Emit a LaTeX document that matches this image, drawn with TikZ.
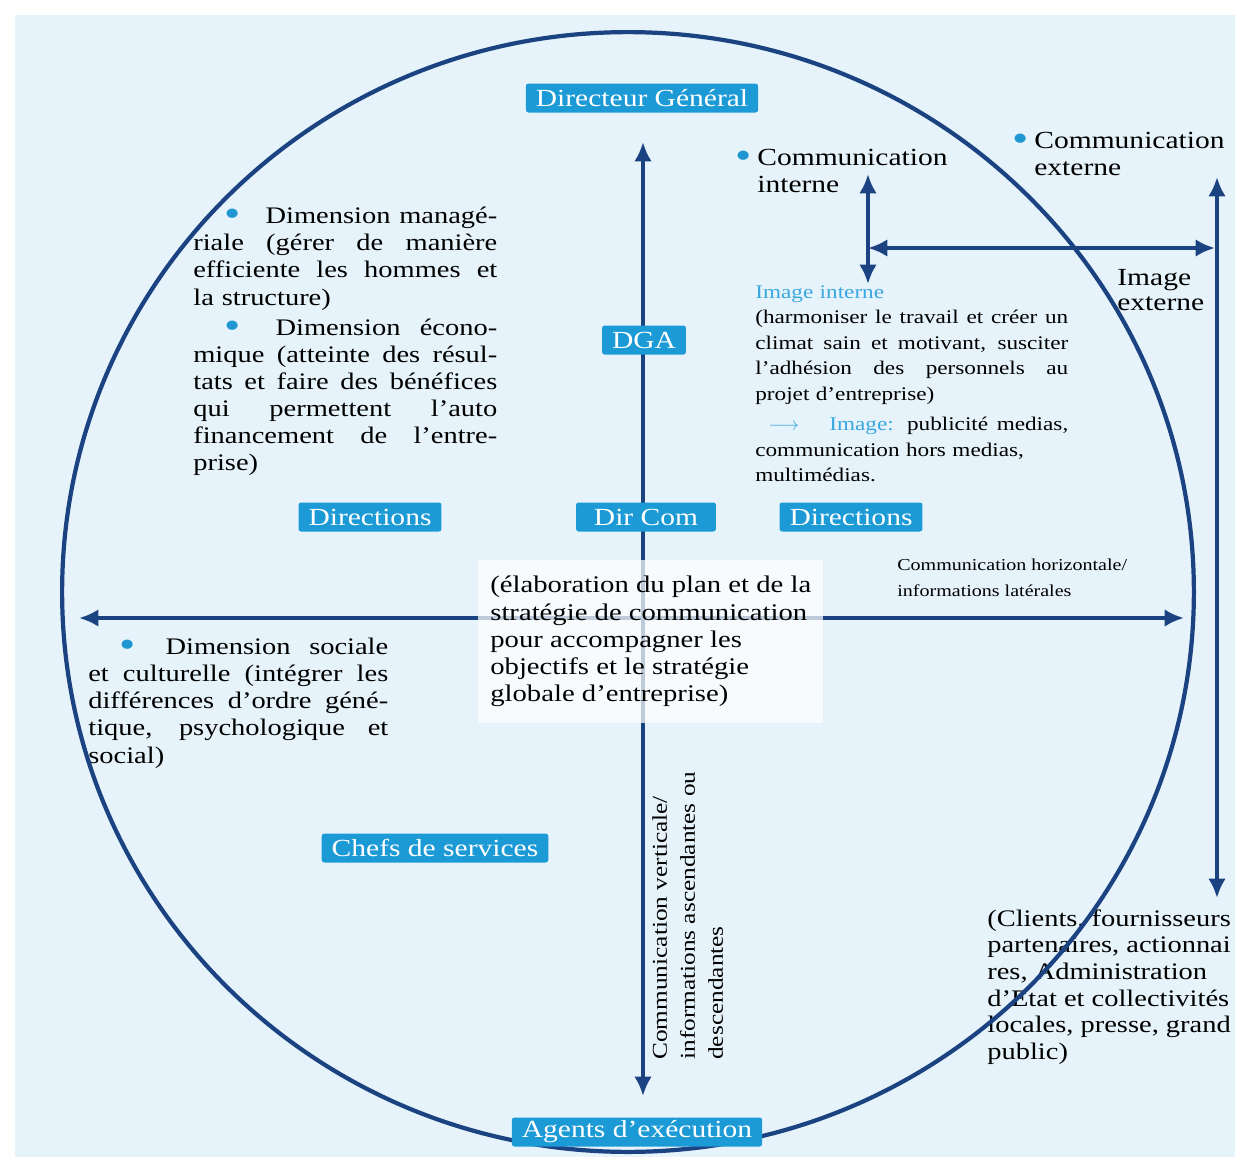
\documentclass[tikz,border=0pt]{standalone}
\usepackage{fontspec}
\setmainfont{Liberation Serif}[FakeStretch=1.2]
\usetikzlibrary{arrows.meta}
\definecolor{cNavy}{HTML}{1B4281}
\definecolor{cLabel}{HTML}{1C9AD6}
\definecolor{cBullet}{HTML}{1E96D2}
\definecolor{cLight}{HTML}{3AA8E0}
\definecolor{cBack}{HTML}{E6F3FA}
\newcommand{\bul}{\raisebox{-1.5pt}{\color{cBullet}\fontsize{22}{10}\selectfont\textbullet}}
\newcommand{\jl}[1]{\noindent\hbox to\hsize{\spaceskip=0pt\xspaceskip=0pt #1}\par}
\newcommand{\nl}[1]{\noindent#1\par}

\begin{document}
\begin{tikzpicture}[x=0.02cm, y=-0.02cm,
  lab/.style={fill=cLabel, text=white, font=\fontsize{14}{14}\selectfont,
    inner xsep=0.2cm, inner ysep=0pt, minimum height=0.58cm, rounded corners=1.5pt},
  rowlab/.style={lab, minimum width=2.8cm},
  txt/.style={inner sep=0pt, align=left, font=\fontsize{13.5}{15.4}\selectfont},
  axis/.style={cNavy, line width=2.3pt, >={Latex[length=11pt, width=10pt]}, <->},
  ring/.style={cNavy, line width=2.4pt},
]
  \useasboundingbox (0,0) rectangle (1235,1157);
  \clip (0,0) rectangle (1235,1157);
  % background
  \fill[white] (0,0) rectangle (1235,1157);
  \fill[cBack] (15,15) rectangle (1235,1157);
  % ---- axes ----
  \coordinate (vT) at (643,142);  \coordinate (vB) at (643,1096);
  \coordinate (hL) at (79,618);   \coordinate (hR) at (1184,618);
  \coordinate (iT) at (868,174);  \coordinate (iB) at (868,284);
  \coordinate (iL) at (868,248);  \coordinate (iR) at (1215,248);
  \coordinate (eT) at (1217,177); \coordinate (eB) at (1217,898);
  \draw[axis] (vT) -- (vB);
  \draw[axis] (hL) -- (hR);
  \draw[axis] (iT) -- (iB);
  \draw[axis] (iL) -- (iR);
  \draw[axis] (eT) -- (eB);
  % ---- left texts ----
  \node[txt, text width=6.08cm, anchor=north west] (mgmt) at (193,207) {%
    \jl{\hspace*{0.62cm}\bul\hspace{0.5cm}Dimension managé-}
    \jl{riale (gérer de manière}
    \jl{efficiente les hommes et}
    \nl{la structure)}\vskip 2pt
    \jl{\hspace*{0.62cm}\bul\hspace{0.7cm}Dimension écono-}
    \jl{mique (atteinte des résul-}
    \jl{tats et faire des bénéfices}
    \jl{qui permettent l'auto}
    \jl{financement de l'entre-}
    \nl{prise)}};
  \node[txt, text width=6.0cm, anchor=north west] (social) at (88,638) {%
    \jl{\hspace*{0.62cm}\bul\hspace{0.6cm}Dimension sociale}
    \jl{et culturelle (intégrer les}
    \jl{différences d'ordre géné-}
    \jl{tique, psychologique et}
    \nl{social)}};
  % ---- centre ----
  \node[txt, font=\fontsize{13.6}{15.5}\selectfont, anchor=north west,
    fill=white, fill opacity=0.72, text opacity=1, inner xsep=0.24cm, inner ysep=0.32cm]
    (plan) at (478,560) {(élaboration du plan et de la\\stratégie de communication\\pour accompagner les\\objectifs et le stratégie\\globale d'entreprise)};
  \node[txt, font=\fontsize{9.5}{14.7}\selectfont, anchor=north west] (horiz) at (897,559)
    {Communication horizontale/\\informations latérales};
  \node[txt, font=\fontsize{12}{15.9}\selectfont, anchor=north west, rotate=90] (verti) at (652,1060)
    {Communication verticale/\\informations ascendantes ou\\descendantes};
  % ---- right texts ----
  \node[txt, font=\fontsize{14}{15.4}\selectfont, anchor=north west] (cint) at (757,149)
    {\llap{\bul\hspace{0.12cm}}Communication\\interne};
  \node[txt, font=\fontsize{14}{15.4}\selectfont, anchor=north west] (cext) at (1034,132)
    {\llap{\bul\hspace{0.12cm}}Communication\\externe};
  \node[txt, font=\fontsize{14}{14.2}\selectfont, anchor=north west] (imgext) at (1117,269)
    {Image\\externe};
  \node[txt, font=\fontsize{11}{14.5}\selectfont, text width=6.26cm, anchor=north west] (imgint) at (755,285) {%
    \nl{\textcolor{cLight}{Image interne}}
    \jl{(harmoniser le travail et créer un}
    \jl{climat sain et motivant, susciter}
    \jl{l'adhésion des personnels au}
    \nl{projet d'entreprise)}\vskip 3pt
    \jl{\hspace*{0.26cm}\textcolor{cLight}{$\longrightarrow$}\hspace{0.6cm}\textcolor{cLight}{Image:} publicité medias,}
    \nl{communication hors medias,}
    \nl{multimédias.}};
  \node[txt, font=\fontsize{13.5}{15.2}\selectfont, anchor=north west] (public) at (987,909)
    {(Clients, fournisseurs\\partenaires, actionnai\\res, Administration\\d'Etat et collectivités\\locales, presse, grand\\public)};
  % ---- circle ----
  \draw[ring] (628,592) ellipse [x radius=11.32cm, y radius=11.2cm];
  % ---- hierarchy labels ----
  \node[lab] (dg) at (642,98) {Directeur Général};
  \node[lab] (dga) at (644,340) {DGA};
  \node[rowlab] (dirL) at (370,517) {Directions};
  \node[rowlab] (dircom) at (646,517) {Dir Com};
  \node[rowlab] (dirR) at (851,517) {Directions};
  \node[lab] (chefs) at (435,848) {Chefs de services};
  \node[lab] (agents) at (637,1132) {Agents d'exécution};
\end{tikzpicture}
\end{document}
